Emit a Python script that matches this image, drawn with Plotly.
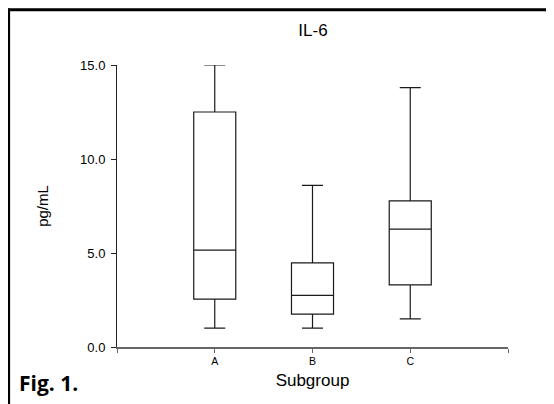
import plotly.graph_objects as go

# Data
groups = ["A", "B", "C"]
positions = [0, 1, 2]
lower_whisker = [1.0, 1.0, 1.5]
q1_vals = [2.55, 1.75, 3.3]
medians = [5.15, 2.75, 6.27]
q3_vals = [12.5, 4.48, 7.77]
upper_whisker = [15.0, 8.6, 13.8]
y_ticks = [0, 5, 10, 15]
y_tick_labels = ["0.0", "5.0", "10.0", "15.0"]

# page body has an 8px margin; lay out in window pixels, shifted by OFF
OFF = 8
W, H = 554 - OFF, 404 - OFF
L, R, T, B = 117 - OFF, 508 - OFF, 65 - OFF, 346.7 - OFF

fig = go.Figure()
for i, g in enumerate(groups):
    fig.add_trace(go.Box(
        x=[positions[i]],
        q1=[q1_vals[i]], median=[medians[i]], q3=[q3_vals[i]],
        lowerfence=[lower_whisker[i]], upperfence=[upper_whisker[i]],
        name=g, width=0.43, whiskerwidth=0.5,
        fillcolor="white", line=dict(color="#1a1a1a", width=1.2),
        boxpoints=False, hoverinfo="skip", showlegend=False,
    ))

def px_x(p):  # window pixel -> paper x
    return (p - OFF - L) / (R - L)

def px_y(p):  # window pixel -> paper y
    return (B - (p - OFF)) / (B - T)

# frame lines (top and left)
fig.add_shape(type="line", xref="paper", yref="paper",
              x0=px_x(7.3), x1=px_x(560), y0=px_y(9.8), y1=px_y(9.8),
              line=dict(color="black", width=2.8))
fig.add_shape(type="line", xref="paper", yref="paper",
              x0=px_x(8.7), x1=px_x(8.7), y0=px_y(8.5), y1=px_y(410),
              line=dict(color="black", width=2.8))

fig.add_annotation(text="<b>Fig. 1.</b>", xref="paper", yref="paper",
                   x=px_x(17), y=px_y(383), xanchor="left", yanchor="middle",
                   showarrow=False,
                   font=dict(family="Open Sans", size=21, color="black"))

fig.update_layout(
    width=W, height=H,
    margin=dict(l=L, r=W - R, t=T, b=H - B, pad=0),
    paper_bgcolor="white", plot_bgcolor="white",
    font=dict(family="Liberation Sans, Arial", color="black"),
    title=dict(text="IL-6", x=(313 - OFF) / W, xanchor="center",
               y=1 - (30 - OFF) / H, yanchor="middle", font=dict(size=17)),
    xaxis=dict(range=[-1, 3], tickmode="array", tickvals=[-1, 0, 1, 2, 3],
               ticktext=["", "A", "B", "C", ""], ticks="outside", ticklen=4,
               tickcolor="#666", tickwidth=1.3,
               showline=True, linecolor="#666", linewidth=1.5,
               showgrid=False, zeroline=False, tickfont=dict(size=10.5),
               title=dict(text="Subgroup", font=dict(size=17), standoff=8)),
    yaxis=dict(range=[0, 15], tickmode="array", tickvals=y_ticks,
               ticktext=y_tick_labels, ticks="outside", ticklen=5,
               tickcolor="#222", tickwidth=1,
               showline=True, linecolor="#222", linewidth=1,
               showgrid=False, zeroline=False, tickfont=dict(size=13),
               ticklabelstandoff=3,
               title=dict(text="pg/mL", font=dict(size=15), standoff=27)),
)

fig.write_html("out.html")
